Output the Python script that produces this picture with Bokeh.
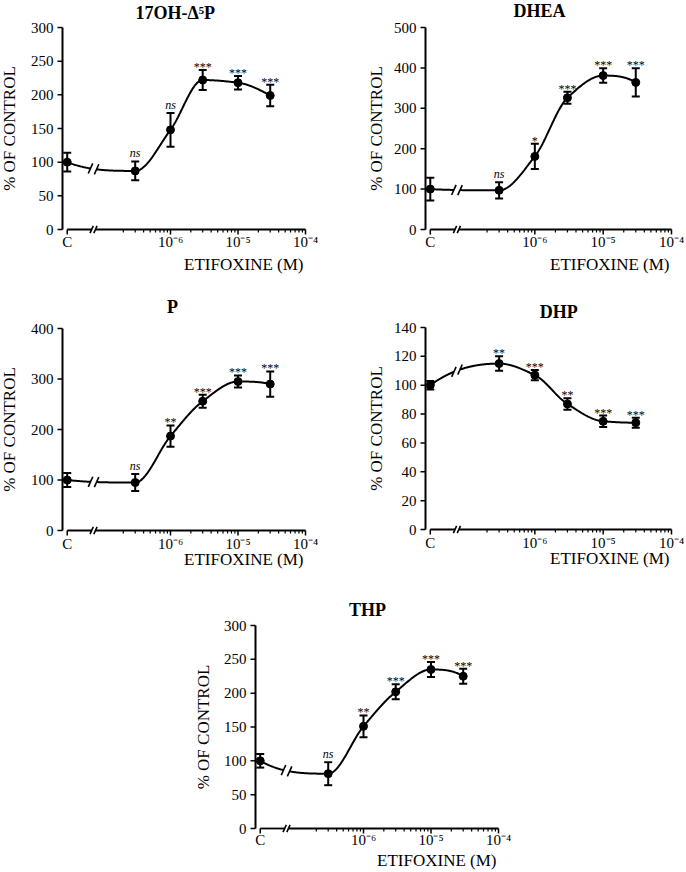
import numpy as np
from bokeh.plotting import figure
from bokeh.models import ColumnDataSource, Whisker, TeeHead, Spacer, Range1d
from bokeh.layouts import row, column
from bokeh.embed import file_html
from bokeh.resources import INLINE
from bokeh.core.properties import value, field

FONT = "Liberation Serif"

# ---------------- data ----------------
concentrations = [3e-7, 1e-6, 3e-6, 1e-5, 3e-5]      # etifoxine, M
control_label = "C"
x_tick_values = [-6, -5, -4]
x_tick_labels = ["10⁻⁶", "10⁻⁵", "10⁻⁴"]
x_axis_title = "ETIFOXINE (M)"
y_axis_title = "% OF CONTROL"

titles = ["17OH-Δ⁵P", "DHEA", "P", "DHP", "THP"]
y_max = [300, 500, 400, 140, 300]
y_step = [50, 100, 100, 20, 50]

mean_17oh = [100, 87, 148, 222, 218, 199]
sem_17oh = [14, 14, 25, 15, 10, 16]
sig_17oh = ["", "ns", "ns", "***", "***", "***"]

mean_dhea = [100, 97, 181, 326, 381, 364]
sem_dhea = [28, 20, 31, 15, 18, 35]
sig_dhea = ["", "ns", "*", "***", "***", "***"]

mean_p = [100, 95, 187, 256, 295, 290]
sem_p = [14, 17, 21, 13, 12, 25]
sig_p = ["", "ns", "**", "***", "***", "***"]

mean_dhp = [100, 115, 107, 87, 75, 74]
sem_dhp = [3, 5, 3.5, 4, 4, 3.5]
sig_dhp = ["", "**", "***", "**", "***", "***"]

mean_thp = [100, 81, 151, 202, 235, 225]
sem_thp = [10, 17, 16, 11, 11, 11]
sig_thp = ["", "ns", "**", "***", "***", "***"]

means = [mean_17oh, mean_dhea, mean_p, mean_dhp, mean_thp]
sems = [sem_17oh, sem_dhea, sem_p, sem_dhp, sem_thp]
sigs = [sig_17oh, sig_dhea, sig_p, sig_dhp, sig_thp]

# ---------------- layout constants ----------------
C_POS = -7.53      # where the control is drawn on the log axis
BREAK = -7.14      # axis break position
GAP = 0.028        # half gap of the axis break (decades)
CGAP = 0.045       # half gap of the curve break (decades)
X_START, X_END = -7.6, -4.0

# W, H, y-axis px, x=1e-4 px, y-max px, y=0 px (panel-local),
# y-label distance, title centre (log x), title lift, x-title drop, tick-label drop
LAYOUT = [
    (362, 290, 62, 305, 27, 229, 53.5, -5.93, 15, 35, 12),
    (324, 290, 63, 309, 27, 229, 49.5, -5.93, 17, 35, 12),
    (362, 290, 62, 305, 38, 240, 53.5, -5.97, 22, 29, 13),
    (324, 290, 63, 309, 37, 239, 49.5, -5.65, 16, 29, 13),
    (328, 292, 63, 306, 45, 248, 52.5, -5.94, 16, 32, 11),
]
SPACER_W = 192


def pchip(xk, yk, xs):
    xk = np.asarray(xk, float)
    yk = np.asarray(yk, float)
    xs = np.asarray(xs, float)
    h = np.diff(xk)
    d = np.diff(yk) / h
    n = len(xk)
    m = np.zeros(n)
    for k in range(1, n - 1):
        if d[k - 1] * d[k] > 0:
            w1 = 2 * h[k] + h[k - 1]
            w2 = h[k] + 2 * h[k - 1]
            m[k] = (w1 + w2) / (w1 / d[k - 1] + w2 / d[k])

    def end(h0, h1, d0, d1):
        mm = ((2 * h0 + h1) * d0 - h0 * d1) / (h0 + h1)
        if np.sign(mm) != np.sign(d0):
            mm = 0.0
        elif np.sign(d0) != np.sign(d1) and abs(mm) > abs(3 * d0):
            mm = 3 * d0
        return mm

    m[0] = end(h[0], h[1], d[0], d[1])
    m[-1] = end(h[-1], h[-2], d[-1], d[-2])
    idx = np.clip(np.searchsorted(xk, xs) - 1, 0, n - 2)
    t = (xs - xk[idx]) / h[idx]
    h00 = 2 * t**3 - 3 * t**2 + 1
    h10 = t**3 - 2 * t**2 + t
    h01 = -2 * t**3 + 3 * t**2
    h11 = t**3 - t**2
    return (h00 * yk[idx] + h10 * h[idx] * m[idx]
            + h01 * yk[idx + 1] + h11 * h[idx] * m[idx + 1])


x_log = [C_POS] + [float(np.log10(c)) for c in concentrations]

minor = []
for e in (-7, -6, -5):
    for k in range(2, 10):
        v = float(np.log10(k * 10.0**e))
        if v > BREAK + 0.1:
            minor.append(v)


def make_panel(i):
    W, H, ax, ar, yt, y0, ylab_d, tx, tlift, xt_drop, tl_drop = LAYOUT[i]
    ym = y_max[i]
    kx = (ar - ax) / (X_END - X_START)     # px per decade
    ky = (y0 - yt) / ym                    # px per y unit
    p = figure(title=None, frame_width=W, frame_height=H,
               x_range=Range1d(X_START - ax / kx, X_END + (W - ar) / kx),
               y_range=Range1d(-(H - y0) / ky, ym + yt / ky),
               x_axis_location=None, y_axis_location=None,
               min_border_left=0, min_border_right=0,
               min_border_top=0, min_border_bottom=0,
               output_backend="svg", toolbar_location=None,
               background_fill_color="white", border_fill_color="white")
    p.outline_line_color = None
    p.grid.visible = False

    # ---- y axis ----
    yticks = list(range(0, ym + 1, y_step[i]))
    p.segment(x0=[X_START], y0=[0], x1=[X_START], y1=[ym], line_color="black", line_width=2)
    p.segment(x0=[X_START] * len(yticks), y0=yticks,
              x1=[X_START - 5 / kx] * len(yticks), y1=yticks,
              line_color="black", line_width=1.5)
    p.text(x=[X_START - 9 / kx] * len(yticks), y=yticks, text=[str(t) for t in yticks],
           text_font=value(FONT), text_font_size="15px", text_align="right",
           text_baseline="middle", text_color="black")
    p.text(x=[X_START - ylab_d / kx], y=[ym / 2], text=[y_axis_title], angle=np.pi / 2,
           text_font=value(FONT), text_font_size="17px", text_align="center",
           text_baseline="middle", text_color="black")

    # ---- x axis with break ----
    p.multi_line(xs=[[C_POS, BREAK - GAP], [BREAK + GAP, X_END]], ys=[[0, 0], [0, 0]],
                 line_color="black", line_width=1.8)
    p.scatter(x=[BREAK - GAP, BREAK + GAP], y=[0, 0], marker="dash", size=8,
              angle=1.15, line_color="black", line_width=1.6)
    major = [C_POS] + x_tick_values
    p.segment(x0=major, y0=[0] * len(major), x1=major, y1=[-5 / ky] * len(major),
              line_color="black", line_width=1.5)
    p.segment(x0=minor, y0=[0] * len(minor), x1=minor, y1=[-3 / ky] * len(minor),
              line_color="black", line_width=1.2)
    p.text(x=major, y=[-tl_drop / ky] * len(major), text=[control_label] + x_tick_labels,
           text_font=value(FONT), text_font_size="15px", text_align="center",
           text_baseline="middle", text_color="black")
    p.text(x=[X_END - 2 / kx], y=[-xt_drop / ky], text=[x_axis_title],
           text_font=value(FONT), text_font_size="17px", text_align="right",
           text_baseline="middle", text_color="black")

    # ---- fitted curve with break ----
    ys_mean = means[i]
    xl = np.linspace(C_POS, BREAK - CGAP, 30)
    xr = np.linspace(BREAK + CGAP, x_log[-1], 300)
    yl = pchip(x_log, ys_mean, xl)
    yr = pchip(x_log, ys_mean, xr)
    p.line(xl, yl, line_color="black", line_width=2)
    p.line(xr, yr, line_color="black", line_width=2)
    p.scatter(x=[BREAK - CGAP, BREAK + CGAP], y=[float(yl[-1]), float(yr[0])],
              marker="dash", size=11, angle=1.15, line_color="black", line_width=1.6)

    # ---- points, error bars, significance ----
    err = sems[i]
    src = ColumnDataSource(dict(
        x=x_log, y=ys_mean,
        upper=[m + s for m, s in zip(ys_mean, err)],
        lower=[m - s for m, s in zip(ys_mean, err)],
        sig=sigs[i],
        style=["italic" if s == "ns" else "normal" for s in sigs[i]],
        dy=[-8 if s == "ns" else -3 for s in sigs[i]],
    ))
    p.add_layout(Whisker(base="x", upper="upper", lower="lower", source=src,
                         line_width=2, line_color="black",
                         upper_head=TeeHead(size=8, line_width=2, line_color="black"),
                         lower_head=TeeHead(size=8, line_width=2, line_color="black")))
    p.scatter("x", "y", source=src, size=8, color="black")
    p.text(x="x", y="upper", text="sig", source=src, text_font=value(FONT),
           text_font_size="12px", text_font_style=field("style"),
           text_align="center", text_baseline="alphabetic", y_offset=field("dy"),
           text_color="black")

    # ---- panel title ----
    p.text(x=[tx], y=[ym], text=[titles[i]], text_font=value(FONT),
           text_font_size="18px", text_font_style="bold", text_align="center",
           text_baseline="alphabetic", y_offset=-tlift, text_color="black")
    return p


panels = [make_panel(i) for i in range(5)]

layout = column(
    row(panels[0], panels[1]),
    row(panels[2], panels[3]),
    row(Spacer(width=SPACER_W, height=10), panels[4]),
)

open("out.html", "w").write(file_html(layout, INLINE))
